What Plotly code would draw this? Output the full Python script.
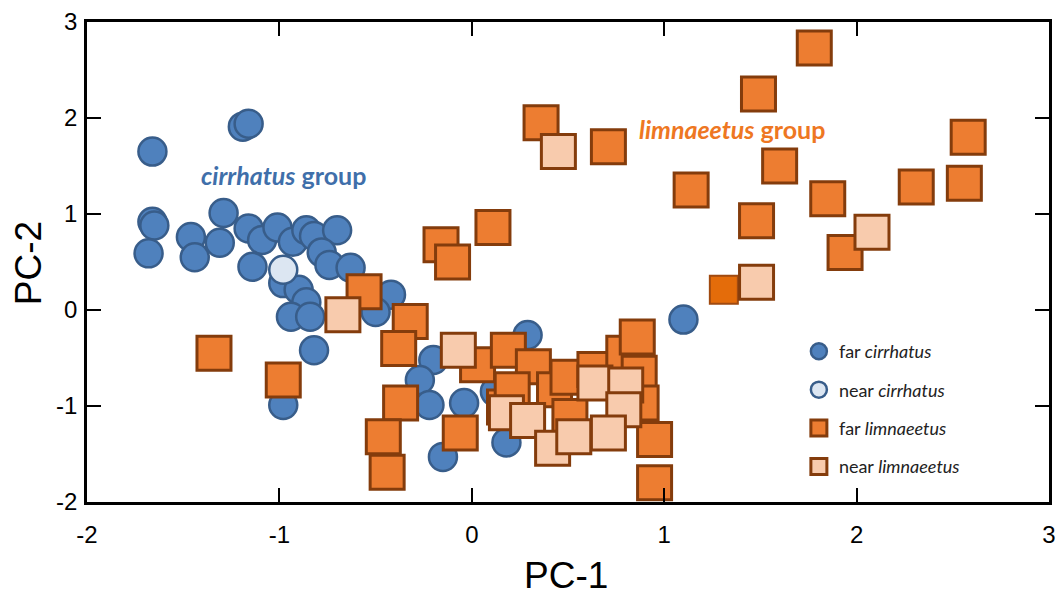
import plotly.graph_objects as go

# far cirrhatus (blue circles)
far_cir_x = [-1.66, -1.19, -1.16, -1.66, -1.65, -1.68, -1.46, -1.44, -1.29, -1.31, -1.16, -1.09,
             -1.01, -0.93, -0.86, -0.82, -0.70, -0.78, -0.74, -0.63, -1.14, -0.98, -0.90, -0.86,
             -0.94, -0.84, -0.82, -0.98, -0.42, -0.50, -0.20, -0.27, -0.22, -0.04, -0.15, 0.18,
             0.29, 1.10, -0.56, 0.12]
far_cir_y = [1.65, 1.91, 1.94, 0.92, 0.88, 0.59, 0.76, 0.55, 1.01, 0.70, 0.85, 0.73,
             0.86, 0.71, 0.83, 0.77, 0.83, 0.60, 0.47, 0.44, 0.45, 0.28, 0.21, 0.08,
             -0.07, -0.07, -0.42, -0.99, 0.16, -0.02, -0.52, -0.73, -0.99, -0.97, -1.53, -1.38,
             -0.26, -0.10, 0.20, -0.85]

# near cirrhatus
near_cir_x = [-0.98]
near_cir_y = [0.42]

# far limnaeetus (orange squares)
far_lim_x = [-1.34, -0.98, -0.56, -0.32, -0.38, -0.37, -0.46, -0.44, -0.06, -0.16, -0.10,
             0.11, 0.36, 0.71, 1.14, 1.78, 1.49, 1.60, 1.85, 1.48, 1.94, 2.31, 2.56, 2.58,
             0.03, 0.19, 0.32, 0.43, 0.50, 0.17, 0.64, 0.79, 0.86, 0.87, 0.88, 0.95, 0.95,
             0.21, 0.51]
far_lim_y = [-0.45, -0.73, 0.19, -0.12, -0.40, -0.97, -1.32, -1.69, -1.28, 0.68, 0.50,
             0.86, 1.95, 1.70, 1.25, 2.73, 2.25, 1.50, 1.16, 0.93, 0.60, 1.28, 1.32, 1.80,
             -0.57, -0.42, -0.59, -0.83, -0.70, -1.01, -0.62, -0.45, -0.28, -0.66, -0.97, -1.35, -1.80,
             -0.83, -1.11]

# far limnaeetus specimen drawn in a darker shade in the original
dark_lim_x = [1.31]
dark_lim_y = [0.21]

# near limnaeetus
near_lim_x = [0.45, 2.08, 1.48, -0.67, -0.07, 0.18, 0.29, 0.42, 0.53, 0.64, 0.80, 0.79, 0.71]
near_lim_y = [1.65, 0.81, 0.29, -0.05, -0.42, -1.07, -1.15, -1.44, -1.32, -0.76, -0.78, -1.04, -1.28]

x_ticks = [-2, -1, 0, 1, 2, 3]
y_ticks = [-2, -1, 0, 1, 2, 3]

AX_FONT = "Liberation Sans, Arial, sans-serif"
TXT_FONT = "Lato, Open Sans, sans-serif"

fig = go.Figure()
fig.add_trace(go.Scatter(
    x=far_cir_x, y=far_cir_y, mode="markers", name="far <i>cirrhatus</i>",
    legendgroup="a",
    marker=dict(symbol="circle", size=28, color="#4F81BD", line=dict(color="#385D8A", width=2.5))))
fig.add_trace(go.Scatter(
    x=near_cir_x, y=near_cir_y, mode="markers", name="near <i>cirrhatus</i>",
    legendgroup="b",
    marker=dict(symbol="circle", size=28, color="#DCE6F2", line=dict(color="#385D8A", width=2.5))))
fig.add_trace(go.Scatter(
    x=far_lim_x, y=far_lim_y, mode="markers", name="far <i>limnaeetus</i>",
    legendgroup="c",
    marker=dict(symbol="square", size=34, color="#ED7D31", line=dict(color="#843C0C", width=3))))
fig.add_trace(go.Scatter(
    x=dark_lim_x, y=dark_lim_y, mode="markers", name="far <i>limnaeetus</i>",
    legendgroup="c", showlegend=False,
    marker=dict(symbol="square", size=28, color="#E46C0A", line=dict(color="#A04A10", width=2))))
fig.add_trace(go.Scatter(
    x=near_lim_x, y=near_lim_y, mode="markers", name="near <i>limnaeetus</i>",
    legendgroup="d",
    marker=dict(symbol="square", size=34, color="#F8CBAD", line=dict(color="#843C0C", width=3))))

fig.add_annotation(x=-0.98, y=1.41, xref="x", yref="y", showarrow=False,
                   text="<b><i>cirrhatus</i> group</b>",
                   font=dict(family=TXT_FONT, size=25, color="#3F6FAA"))
fig.add_annotation(x=1.35, y=1.89, xref="x", yref="y", showarrow=False,
                   text="<b><i>limnaeetus</i> group</b>",
                   font=dict(family=TXT_FONT, size=25, color="#EE7722"))

# axis titles
fig.add_annotation(x=0.498, y=-0.154, xref="paper", yref="paper", showarrow=False,
                   xanchor="center", yanchor="middle", text="PC-1",
                   font=dict(family=AX_FONT, size=37, color="black"))
fig.add_annotation(x=-0.060, y=0.498, xref="paper", yref="paper", showarrow=False,
                   xanchor="center", yanchor="middle", text="PC-2", textangle=-90,
                   font=dict(family=AX_FONT, size=37, color="black"))

axis_common = dict(
    showline=True, linecolor="black", linewidth=2.5, mirror="ticks",
    ticks="inside", ticklen=14, tickwidth=2, tickcolor="black",
    showgrid=False, zeroline=False, automargin=False,
    tickfont=dict(family=AX_FONT, size=24, color="black"),
)
fig.update_xaxes(range=[-2, 3], tickvals=x_ticks, ticktext=[str(v) for v in x_ticks],
                 ticklabelstandoff=9, **axis_common)
fig.update_yaxes(range=[-2, 3], tickvals=y_ticks, ticktext=[str(v) for v in y_ticks],
                 ticklabelstandoff=2, **axis_common)

fig.update_layout(
    width=1062, height=599,
    margin=dict(l=87, r=13, t=22, b=97),
    plot_bgcolor="white", paper_bgcolor="white",
    legend=dict(x=0.74, y=0.352, xanchor="left", yanchor="top",
                traceorder="grouped", tracegroupgap=12, bgcolor="rgba(0,0,0,0)",
                font=dict(family=TXT_FONT, size=18, color="#222222"),
                itemsizing="trace"),
    showlegend=True,
)

fig.write_html("out.html", config={"displayModeBar": False},
               post_script="document.body.style.margin='0';document.body.style.overflow='hidden';")
